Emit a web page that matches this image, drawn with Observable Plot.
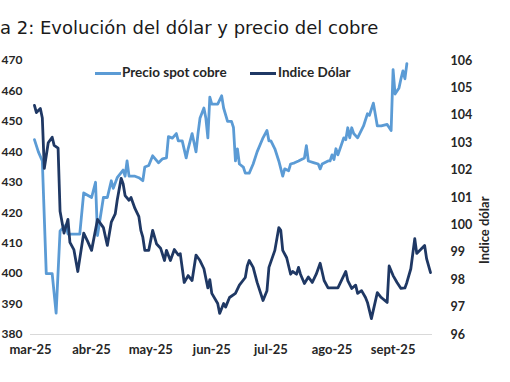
<!DOCTYPE html>
<html>
<head>
<meta charset="utf-8">
<script src="https://cdn.jsdelivr.net/npm/d3@7"></script>
<script src="https://cdn.jsdelivr.net/npm/@observablehq/plot@0.6"></script>
<style>
  html, body { margin: 0; padding: 0; background: #fff; }
  #wrap { position: relative; width: 510px; height: 382px; overflow: hidden; }
  #title { position: absolute; left: 0; top: 17px; font-family: "DejaVu Sans", Verdana, sans-serif; font-size: 18px; color: #1a1a1a; white-space: nowrap; }
  #chart { position: absolute; left: 0; top: 48px; }
  .leg { position: absolute; font-family: Lato, "Liberation Sans", sans-serif; font-weight: bold; font-size: 13.5px; color: #262626; white-space: nowrap; }
  .sw { position: absolute; height: 3px; }
</style>
</head>
<body>
<div id="wrap">
  <div id="title">a 2: Evolución del dólar y precio del cobre</div>
  <div id="chart"></div>
  <div class="sw" style="left:95px; top:72px; width:26px; background:#5B9BD5"></div>
  <div class="leg" style="left:122px; top:64px">Precio spot cobre</div>
  <div class="sw" style="left:250px; top:72px; width:26px; background:#1F3864"></div>
  <div class="leg" style="left:278px; top:64px">Indice Dólar</div>
</div>
<script>
// Copper spot price (US cents/lb), left axis
const copperDates = ["2025-03-03","2025-03-05","2025-03-07","2025-03-09","2025-03-12","2025-03-14","2025-03-16","2025-03-19","2025-03-20","2025-03-26","2025-03-28","2025-04-01","2025-04-03","2025-04-04","2025-04-07","2025-04-09","2025-04-11","2025-04-12","2025-04-14","2025-04-17","2025-04-18","2025-04-19","2025-04-20","2025-04-23","2025-04-25","2025-04-27","2025-04-28","2025-04-30","2025-05-02","2025-05-05","2025-05-07","2025-05-09","2025-05-10","2025-05-12","2025-05-14","2025-05-15","2025-05-17","2025-05-19","2025-05-20","2025-05-22","2025-05-24","2025-05-25","2025-05-26","2025-05-28","2025-05-29","2025-05-30","2025-05-31","2025-06-01","2025-06-04","2025-06-06","2025-06-07","2025-06-09","2025-06-11","2025-06-12","2025-06-13","2025-06-14","2025-06-15","2025-06-17","2025-06-18","2025-06-20","2025-06-22","2025-06-24","2025-06-27","2025-06-29","2025-06-30","2025-07-01","2025-07-03","2025-07-05","2025-07-07","2025-07-08","2025-07-10","2025-07-11","2025-07-13","2025-07-15","2025-07-18","2025-07-19","2025-07-20","2025-07-23","2025-07-25","2025-07-26","2025-07-27","2025-07-30","2025-07-31","2025-08-01","2025-08-02","2025-08-03","2025-08-04","2025-08-07","2025-08-08","2025-08-09","2025-08-10","2025-08-11","2025-08-12","2025-08-14","2025-08-17","2025-08-19","2025-08-20","2025-08-22","2025-08-24","2025-08-26","2025-08-29","2025-08-31","2025-09-01","2025-09-02","2025-09-04","2025-09-05","2025-09-06","2025-09-07","2025-09-08"];
const copperValues = [444,440,437,400,400,387,414,416,413,413,426.5,425,430,412.5,425,425,430.5,428,431.5,434,432,437,432,432,431.5,430.5,435,435.5,438.7,436.4,437.7,438,445,444.5,446,443.6,443.6,438,441,446,440,446,451,454.4,451,444.6,458,455.7,455.7,458.4,454.4,450,450,448,437,441,436,435,433,433,436,440,444.6,447,443.6,443.6,441,437,432,434.4,433.8,436,436.4,437,438,442,437,436.4,436,434.4,436,437,437,439,437.5,441,439,444.6,444,447.9,444.6,447.9,446,444.6,448.5,452.5,452,456,448.5,448.5,449,447,467,459,461,464,466.6,464,469];

// Dollar index, right axis
const dollarDates = ["2025-03-03","2025-03-04","2025-03-06","2025-03-07","2025-03-08","2025-03-10","2025-03-12","2025-03-13","2025-03-15","2025-03-16","2025-03-18","2025-03-20","2025-03-21","2025-03-23","2025-03-25","2025-03-28","2025-03-30","2025-04-01","2025-04-04","2025-04-07","2025-04-09","2025-04-11","2025-04-13","2025-04-14","2025-04-16","2025-04-17","2025-04-18","2025-04-20","2025-04-21","2025-04-23","2025-04-25","2025-04-26","2025-04-27","2025-04-28","2025-04-30","2025-05-02","2025-05-04","2025-05-06","2025-05-08","2025-05-09","2025-05-11","2025-05-13","2025-05-15","2025-05-16","2025-05-18","2025-05-20","2025-05-22","2025-05-24","2025-05-26","2025-05-28","2025-05-30","2025-05-31","2025-06-01","2025-06-04","2025-06-05","2025-06-07","2025-06-08","2025-06-10","2025-06-13","2025-06-15","2025-06-18","2025-06-19","2025-06-20","2025-06-22","2025-06-24","2025-06-27","2025-06-29","2025-06-30","2025-07-03","2025-07-05","2025-07-06","2025-07-07","2025-07-09","2025-07-11","2025-07-12","2025-07-14","2025-07-15","2025-07-16","2025-07-18","2025-07-20","2025-07-22","2025-07-24","2025-07-26","2025-07-28","2025-07-30","2025-08-02","2025-08-04","2025-08-08","2025-08-09","2025-08-11","2025-08-13","2025-08-14","2025-08-16","2025-08-18","2025-08-19","2025-08-21","2025-08-24","2025-08-26","2025-08-29","2025-08-30","2025-09-01","2025-09-03","2025-09-05","2025-09-07","2025-09-08","2025-09-10","2025-09-12","2025-09-13","2025-09-15","2025-09-17","2025-09-18","2025-09-20"];
const dollarValues = [104.36,104.1,104.25,103.9,102.06,103,103.2,102.9,102.8,100.5,99.7,100.2,99.36,99.1,98.3,99.7,99.4,99.07,100.2,99.9,99.25,100.1,100.4,100.9,101.7,101.5,101.07,100.9,101,100.6,100.3,99.8,99.55,99.07,99.07,99.8,99.3,99.15,98.7,99.07,98.7,99.1,98.9,98.95,97.9,98.15,97.97,98.9,98.7,98.4,97.7,98,97.5,97.13,96.77,97.13,97,97.35,97.5,97.8,98.08,98.5,98.7,98.45,97.9,97.24,97.6,98.45,99.07,99.9,99.8,99.07,98.8,98.2,98.3,98.2,98.45,98.2,97.86,98.1,97.9,98.2,98.6,97.97,97.7,97.7,97.7,98.3,97.97,97.68,97.8,97.5,97.6,97.35,97.17,96.58,97.53,97.35,97.17,98.5,98.15,97.9,97.68,97.7,97.9,98.4,99.5,98.96,99.1,99.25,98.77,98.26];

const monthTicks = ["2025-03-01","2025-04-01","2025-05-01","2025-06-01","2025-07-01","2025-08-01","2025-09-01"];
const monthLabels = ["mar-25","abr-25","may-25","jun-25","jul-25","ago-25","sept-25"];
const leftTicks = [380,390,400,410,420,430,440,450,460,470];
const rightTicks = [96,97,98,99,100,101,102,103,104,105,106];

// map dollar index onto the copper scale (96..106 -> 380..470)
const toLeft = v => 380 + (v - 96) * 9;

const copper = copperDates.map((d, i) => ({date: new Date(d), value: copperValues[i]}));
const dollar = dollarDates.map((d, i) => ({date: new Date(d), value: toLeft(dollarValues[i])}));
const tickDates = monthTicks.map(d => new Date(d));

const font = "Lato, 'Liberation Sans', sans-serif";

const chart = Plot.plot({
  width: 510,
  height: 334,
  marginTop: 12,
  marginBottom: 48,
  marginLeft: 30,
  marginRight: 78,
  style: {fontFamily: font, fontSize: "13px", fontWeight: "bold", color: "#262626", background: "transparent", overflow: "visible"},
  x: {type: "utc", domain: [new Date("2025-03-01"), new Date("2025-09-21")]},
  y: {domain: [380, 470]},
  marks: [
    Plot.ruleY([380], {stroke: "#d9d9d9", strokeWidth: 1.2}),
    Plot.axisX({ticks: tickDates, tickSize: 0, tickPadding: 10, fontSize: 13, tickFormat: (d, i) => monthLabels[i], label: null}),
    Plot.axisY({anchor: "left", ticks: leftTicks, tickSize: 0, tickPadding: 8, fontSize: 12, tickFormat: d => String(d), label: null}),
    Plot.axisY({anchor: "right", ticks: rightTicks.map(toLeft), tickSize: 0, tickPadding: 18, fontSize: 12.5, tickFormat: d => String(Math.round(96 + (d - 380) / 9)), label: null}),
    Plot.text(["Indice dólar"], {frameAnchor: "right", dx: 52, dy: -1, rotate: -90, fontSize: 13, fontWeight: "bold", fill: "#262626"}),
    Plot.line(copper, {x: "date", y: "value", stroke: "#5B9BD5", strokeWidth: 2.8, strokeLinejoin: "round"}),
    Plot.line(dollar, {x: "date", y: "value", stroke: "#1F3864", strokeWidth: 2.8, strokeLinejoin: "round"})
  ]
});
document.getElementById("chart").appendChild(chart);
</script>
</body>
</html>
